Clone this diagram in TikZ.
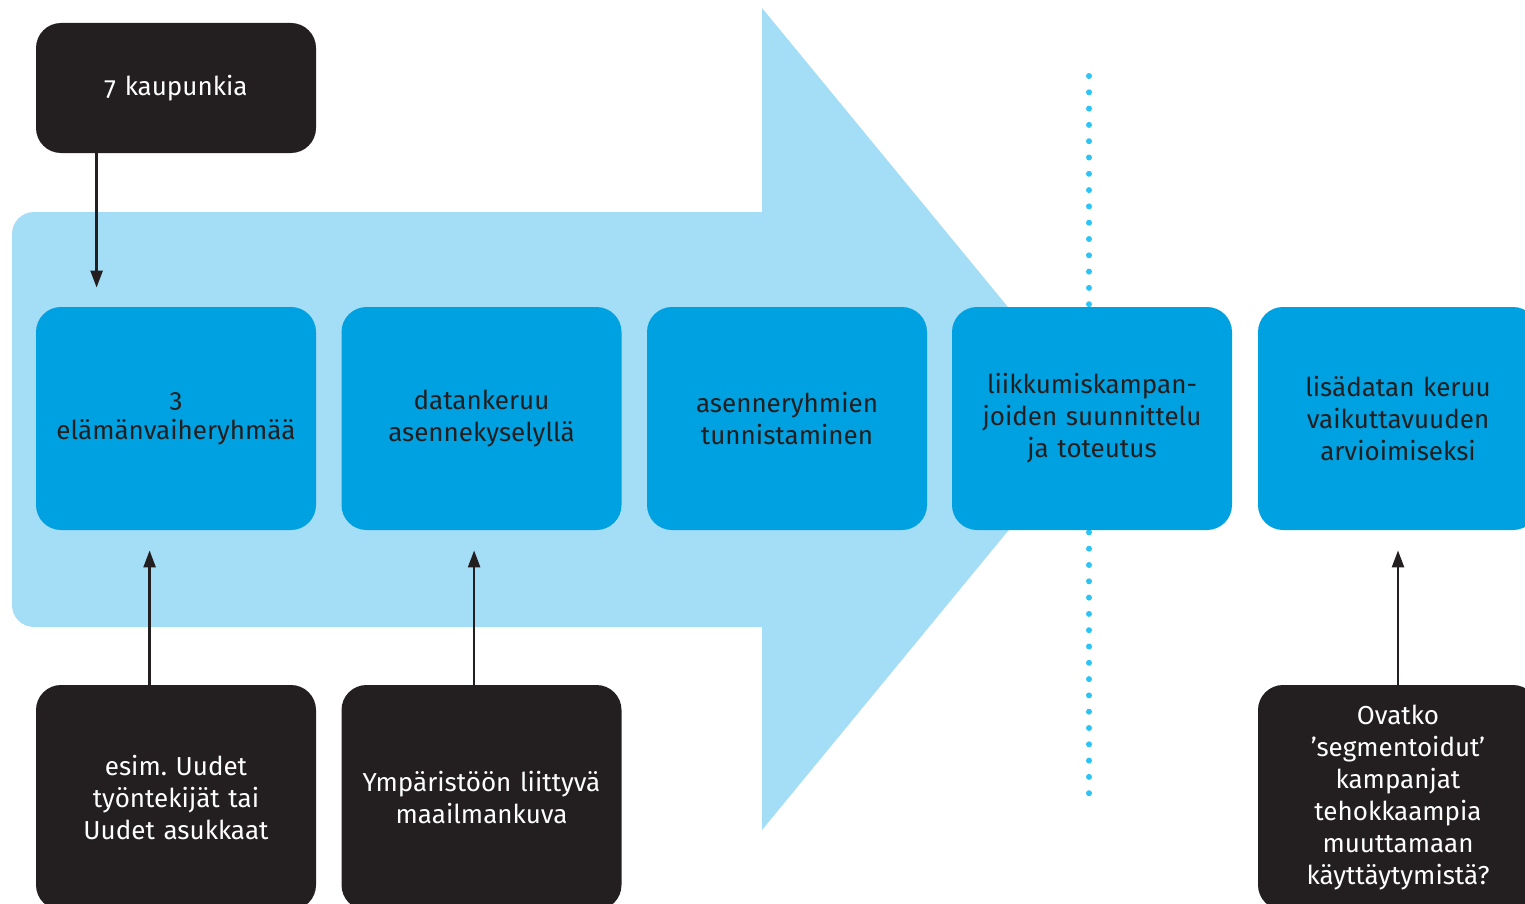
\documentclass[tikz,border=0pt]{standalone}
\usepackage{fontspec}
\setmainfont[Numbers=OldStyle]{Fira Sans}
\frenchspacing
\usetikzlibrary{arrows.meta}
\definecolor{arrowblue}{HTML}{A4DDF6}
\definecolor{stepblue}{HTML}{00A1E0}
\definecolor{boxblack}{HTML}{231F20}
\definecolor{dotblue}{HTML}{2CC4F4}
\newcommand{\pxunit}{0.5pt}

\begin{document}
\begin{tikzpicture}
\tikzstyle{every node}=[rectangle,
			rounded corners=25*\pxunit,
			minimum width=280*\pxunit,
			text width=270*\pxunit,
			inner sep=0pt,
			align=center,
			font=\fontsize{13}{16}\selectfont
			]
\tikzstyle{stepbox}=[fill=stepblue, text=boxblack, minimum height=223*\pxunit]
\tikzstyle{inputbox}=[fill=boxblack, text=white]
\tikzstyle{feed}=[draw=boxblack, line width=1.2pt, -{Triangle[length=8.5pt,width=6pt]}]

\useasboundingbox (0,0) rectangle (1525*\pxunit,-904*\pxunit);


\fill[arrowblue] (762*\pxunit,-212*\pxunit) -- (762*\pxunit,-8*\pxunit) -- (1100*\pxunit,-419*\pxunit) -- (762*\pxunit,-830*\pxunit) -- (762*\pxunit,-627*\pxunit) [rounded corners=22*\pxunit] -- (12*\pxunit,-627*\pxunit) -- (12*\pxunit,-212*\pxunit) [sharp corners] -- cycle;
    

\draw[dotblue, line width=6*\pxunit, line cap=round, dash pattern=on 0pt off 8.15pt] (1089*\pxunit,-76*\pxunit) -- (1089*\pxunit,-800*\pxunit);
    

\node[stepbox] (groups) at (176*\pxunit,-418.5*\pxunit) {3\\elämänvaiheryhmää};
        

\node[stepbox] (survey) at (481.5*\pxunit,-418.5*\pxunit) {datankeruu\\asennekyselyllä};
        

\node[stepbox] (segments) at (787*\pxunit,-418.5*\pxunit) {asenneryhmien\\tunnistaminen};
        

\node[stepbox] (campaigns) at (1092*\pxunit,-418.5*\pxunit) {liikkumiskampan-\\joiden suunnittelu\\ja toteutus};
        

\node[stepbox] (followup) at (1398*\pxunit,-418.5*\pxunit) {lisädatan keruu\\vaikuttavuuden\\arvioimiseksi};
        

\node[inputbox, minimum height=130*\pxunit] (cities) at (176*\pxunit,-88*\pxunit) {7 kaupunkia};
        

\node[inputbox, minimum height=225*\pxunit] (newcomers) at (176*\pxunit,-797.5*\pxunit) {esim. Uudet\\työntekijät tai\\Uudet asukkaat};
        

\node[inputbox, minimum height=225*\pxunit] (worldview) at (481.5*\pxunit,-797.5*\pxunit) {Ympäristöön liittyvä\\maailmankuva};
        

\node[inputbox, minimum height=225*\pxunit] (question) at (1398*\pxunit,-797.5*\pxunit) {Ovatko\\’segmentoidut’\\kampanjat\\tehokkaampia\\muuttamaan\\käyttäytymistä?};
        

\draw[feed, shorten >=19*\pxunit] ([xshift=61*\pxunit]cities.south west) -- ([xshift=61*\pxunit]groups.north west);
    

\draw[feed, shorten >=20*\pxunit] ([xshift=114*\pxunit]newcomers.north west) -- ([xshift=114*\pxunit]groups.south west);
    

\draw[feed, shorten >=20*\pxunit] ([xshift=133*\pxunit]worldview.north west) -- ([xshift=133*\pxunit]survey.south west);
    

\draw[feed, shorten >=20*\pxunit] (question.north) -- (followup.south);
    

\end{tikzpicture}
\end{document}
